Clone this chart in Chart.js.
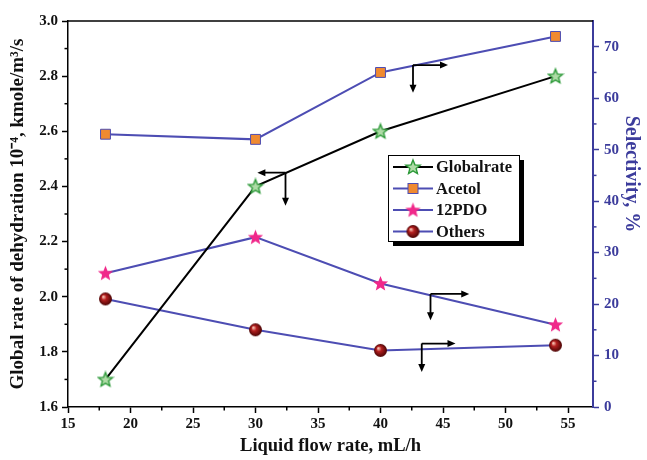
<!DOCTYPE html>
<html>
<head>
<meta charset="utf-8">
<script src="https://cdn.jsdelivr.net/npm/chart.js@4"></script>
<style>
  html, body { margin: 0; padding: 0; background: #fff; }
  #wrap { width: 647px; height: 460px; }
</style>
</head>
<body>
<div id="wrap"><canvas id="chart" width="647" height="460"></canvas></div>
<script>
// liquid flow rate, mL/h
var FLOW = [18, 30, 40, 54];
// global rate of dehydration, 10^-4 kmole/m3/s (left axis)
var GLOBALRATE = [1.70, 2.40, 2.60, 2.80];
// selectivity, % (right axis)
var ACETOL = [53, 52, 65, 72];
var PDO12 = [26, 33, 24, 16];
var OTHERS = [21, 15, 11, 12];

// the little "which axis" arrows, in data units of x / left y
var ARROWS = [
    { x: 42.6, y: 2.84, toX: 45.4, toY: 2.74 },
    { x: 32.4, y: 2.45, toX: 30.15, toY: 2.33 },
    { x: 44.0, y: 2.01, toX: 47.1, toY: 1.915 },
    { x: 43.3, y: 1.83, toX: 46.0, toY: 1.727 }
];

const BLUE = "#4d4db3";
const AXIS_BLUE = "#3c3c9c";
const FONT = "'Liberation Serif', 'Times New Roman', serif";


function makeStar(outer, inner, fill, stroke) {
    var size = Math.ceil(outer * 2 + 3);
    var c = document.createElement("canvas");
    c.width = size;
    c.height = size;
    var ctx = c.getContext("2d");
    var cx = size / 2, cy = size / 2 + 0.5;
    ctx.beginPath();
    for (var i = 0; i < 10; i++) {
        var r = i % 2 == 0 ? outer : inner;
        var a = -Math.PI / 2 + i * Math.PI / 5;
        ctx.lineTo(cx + r * Math.cos(a), cy + r * Math.sin(a));
    }
    ctx.closePath();
    ctx.fillStyle = fill;
    ctx.fill();
    if (stroke) {
        ctx.lineWidth = 1.4;
        ctx.strokeStyle = stroke;
        ctx.stroke();
    }
    return c;
}


function makeSphere(r) {
    var size = Math.ceil(r * 2 + 2);
    var c = document.createElement("canvas");
    c.width = size;
    c.height = size;
    var ctx = c.getContext("2d");
    var cx = size / 2, cy = size / 2;
    var g = ctx.createRadialGradient(cx - r * 0.35, cy - r * 0.35, 0.5, cx, cy, r);
    g.addColorStop(0, "#f6c0b0");
    g.addColorStop(0.35, "#b52020");
    g.addColorStop(1, "#4a0404");
    ctx.beginPath();
    ctx.arc(cx, cy, r, 0, Math.PI * 2);
    ctx.fillStyle = g;
    ctx.fill();
    return c;
}


var greenStar = makeStar(7.5, 3.3, "#aedba6", "#2e9a3a");
var pinkStar = makeStar(8, 3.5, "#f0288a", null);
var sphere = makeSphere(6.5);


function isMultiple(v, step) {
    return Math.abs(v / step - Math.round(v / step)) < 1e-6;
}


// minor ticks halfway between the major ones, plus the top frame line
var minorTicks = {
    id: "minorTicks",
    afterDraw(chart) {
        var ctx = chart.ctx;
        var area = chart.chartArea;
        var x = chart.scales.x, y = chart.scales.y, y1 = chart.scales.y1;
        ctx.save();
        ctx.lineWidth = 1.5;
        ctx.strokeStyle = "#000";
        for (var v = 17.5; v < 57; v += 5) {
            var px = x.getPixelForValue(v);
            ctx.beginPath();
            ctx.moveTo(px, area.bottom);
            ctx.lineTo(px, area.bottom + 3.5);
            ctx.stroke();
        }
        for (var v = 1.7; v < 3.0; v += 0.2) {
            var py = y.getPixelForValue(v);
            ctx.beginPath();
            ctx.moveTo(area.left, py);
            ctx.lineTo(area.left - 3.5, py);
            ctx.stroke();
        }
        ctx.strokeStyle = AXIS_BLUE;
        for (var v = 5; v < 75; v += 10) {
            var py = y1.getPixelForValue(v);
            ctx.beginPath();
            ctx.moveTo(area.right, py);
            ctx.lineTo(area.right + 3.5, py);
            ctx.stroke();
        }
        ctx.strokeStyle = "#000";
        ctx.lineWidth = 1.5;
        ctx.beginPath();
        ctx.moveTo(area.left, area.top);
        ctx.lineTo(area.right, area.top);
        ctx.stroke();

        // right axis title sits above the middle in the original
        ctx.fillStyle = AXIS_BLUE;
        ctx.font = "bold 20px " + FONT;
        ctx.textAlign = "center";
        ctx.textBaseline = "middle";
        ctx.translate(631, area.top + 153);
        ctx.rotate(Math.PI / 2);
        ctx.fillText("Selectivity, %", 0, 0);
        ctx.restore();
    }
};


function drawArrowHead(ctx, x, y, dx, dy) {
    var len = 8, half = 3.5;
    var nx = -dy, ny = dx;
    ctx.beginPath();
    ctx.moveTo(x, y);
    ctx.lineTo(x - dx * len + nx * half, y - dy * len + ny * half);
    ctx.lineTo(x - dx * len - nx * half, y - dy * len - ny * half);
    ctx.closePath();
    ctx.fill();
}


var arrows = {
    id: "arrows",
    afterDatasetsDraw(chart) {
        var ctx = chart.ctx;
        var x = chart.scales.x, y = chart.scales.y;
        ctx.save();
        ctx.strokeStyle = "#000";
        ctx.fillStyle = "#000";
        ctx.lineWidth = 1.8;
        ARROWS.forEach(function (a) {
            var cx = x.getPixelForValue(a.x), cy = y.getPixelForValue(a.y);
            var hx = x.getPixelForValue(a.toX), vy = y.getPixelForValue(a.toY);
            var dir = hx > cx ? 1 : -1;
            ctx.beginPath();
            ctx.moveTo(cx, cy);
            ctx.lineTo(hx - dir * 6, cy);
            ctx.moveTo(cx, cy);
            ctx.lineTo(cx, vy - 6);
            ctx.stroke();
            drawArrowHead(ctx, hx, cy, dir, 0);
            drawArrowHead(ctx, cx, vy, 0, 1);
        });
        ctx.restore();
    }
};


// legend box with a drop shadow, inside the plot
var boxLegend = {
    id: "boxLegend",
    afterDraw(chart) {
        var ctx = chart.ctx;
        var area = chart.chartArea;
        var left = area.left + 320, top = area.top + 134;
        var w = 131, h = 86;
        ctx.save();
        ctx.fillStyle = "#000";
        ctx.fillRect(left + 5, top + 5, w, h);
        ctx.fillStyle = "#fff";
        ctx.fillRect(left, top, w, h);
        ctx.strokeStyle = "#000";
        ctx.lineWidth = 1;
        ctx.strokeRect(left + 0.5, top + 0.5, w, h);

        var rows = [
            { text: "Globalrate", color: "#000", img: greenStar },
            { text: "Acetol", color: BLUE, rect: true },
            { text: "12PDO", color: BLUE, img: pinkStar },
            { text: "Others", color: BLUE, img: sphere }
        ];
        ctx.font = "bold 16.5px " + FONT;
        ctx.textBaseline = "middle";
        rows.forEach(function (r, i) {
            var ry = top + 12 + i * 21.5;
            ctx.strokeStyle = r.color;
            ctx.lineWidth = 2;
            ctx.beginPath();
            ctx.moveTo(left + 5, ry);
            ctx.lineTo(left + 45, ry);
            ctx.stroke();
            var mx = left + 25;
            if (r.rect) {
                ctx.fillStyle = "#f08a30";
                ctx.fillRect(mx - 5, ry - 5, 10, 10);
                ctx.strokeStyle = BLUE;
                ctx.lineWidth = 1;
                ctx.strokeRect(mx - 5, ry - 5, 10, 10);
            } else {
                ctx.drawImage(r.img, mx - r.img.width / 2, ry - r.img.height / 2);
            }
            ctx.fillStyle = "#111";
            ctx.fillText(r.text, left + 48, ry + 1);
        });
        ctx.restore();
    }
};


function initChart() {
    var tickFont = { family: FONT, size: 15, weight: "bold" };

    new Chart(document.getElementById("chart"), {
        type: "line",
        data: {
            datasets: [
                {
                    label: "Globalrate",
                    data: FLOW.map(function (f, i) { return { x: f, y: GLOBALRATE[i] }; }),
                    yAxisID: "y",
                    borderColor: "#000",
                    borderWidth: 2,
                    pointStyle: greenStar
                },
                {
                    label: "Acetol",
                    data: FLOW.map(function (f, i) { return { x: f, y: ACETOL[i] }; }),
                    yAxisID: "y1",
                    borderColor: BLUE,
                    borderWidth: 2,
                    pointStyle: "rect",
                    pointRadius: 7,
                    backgroundColor: "#f08a30",
                    pointBorderColor: BLUE,
                    pointBorderWidth: 1
                },
                {
                    label: "12PDO",
                    data: FLOW.map(function (f, i) { return { x: f, y: PDO12[i] }; }),
                    yAxisID: "y1",
                    borderColor: BLUE,
                    borderWidth: 2,
                    pointStyle: pinkStar
                },
                {
                    label: "Others",
                    data: FLOW.map(function (f, i) { return { x: f, y: OTHERS[i] }; }),
                    yAxisID: "y1",
                    borderColor: BLUE,
                    borderWidth: 2,
                    pointStyle: sphere
                }
            ]
        },
        options: {
            responsive: false,
            animation: false,
            layout: { padding: { top: 21, left: 0, right: 0, bottom: 0 } },
            plugins: {
                legend: { display: false },
                tooltip: { enabled: false }
            },
            scales: {
                x: {
                    type: "linear",
                    min: 15,
                    max: 57,
                    afterBuildTicks: function (s) {
                        s.ticks = s.ticks.filter(function (t) { return isMultiple(t.value, 5); });
                    },
                    afterFit: function (s) { s.height = 53; },
                    ticks: {
                        stepSize: 5,
                        includeBounds: false,
                        font: tickFont,
                        color: "#111",
                        padding: 2,
                        autoSkip: false,
                        maxRotation: 0
                    },
                    grid: { drawOnChartArea: false, tickLength: 6, tickWidth: 1.5, tickColor: "#000" },
                    border: { color: "#000", width: 1.5 },
                    title: {
                        display: true,
                        text: "Liquid flow rate, mL/h",
                        font: { family: FONT, size: 18.5, weight: "bold" },
                        color: "#111",
                        padding: { top: 3, bottom: 3 }
                    }
                },
                y: {
                    position: "left",
                    min: 1.6,
                    max: 3.0,
                    afterFit: function (s) { s.width = 68; },
                    ticks: {
                        stepSize: 0.2,
                        font: tickFont,
                        color: "#111",
                        padding: 4,
                        callback: function (v) { return Number(v).toFixed(1); }
                    },
                    grid: { drawOnChartArea: false, tickLength: 6, tickWidth: 1.5, tickColor: "#000" },
                    border: { color: "#000", width: 1.5 },
                    title: {
                        display: true,
                        text: "Global rate of dehydration 10\u207B\u2074, kmole/m\u00B3/s",
                        font: { family: FONT, size: 19, weight: "bold" },
                        color: "#111",
                        padding: { top: 7, bottom: 7 }
                    }
                },
                y1: {
                    position: "right",
                    min: 0,
                    max: 75,
                    afterBuildTicks: function (s) {
                        s.ticks = s.ticks.filter(function (t) { return isMultiple(t.value, 10); });
                    },
                    afterFit: function (s) { s.width = 54; },
                    ticks: {
                        stepSize: 10,
                        includeBounds: false,
                        font: tickFont,
                        color: AXIS_BLUE,
                        padding: 5,
                        autoSkip: false
                    },
                    grid: { drawOnChartArea: false, tickLength: 6, tickWidth: 1.5, tickColor: AXIS_BLUE },
                    border: { color: AXIS_BLUE, width: 2 },
                    title: { display: false }
                }
            }
        },
        plugins: [minorTicks, arrows, boxLegend]
    });
}

initChart();
</script>
</body>
</html>
